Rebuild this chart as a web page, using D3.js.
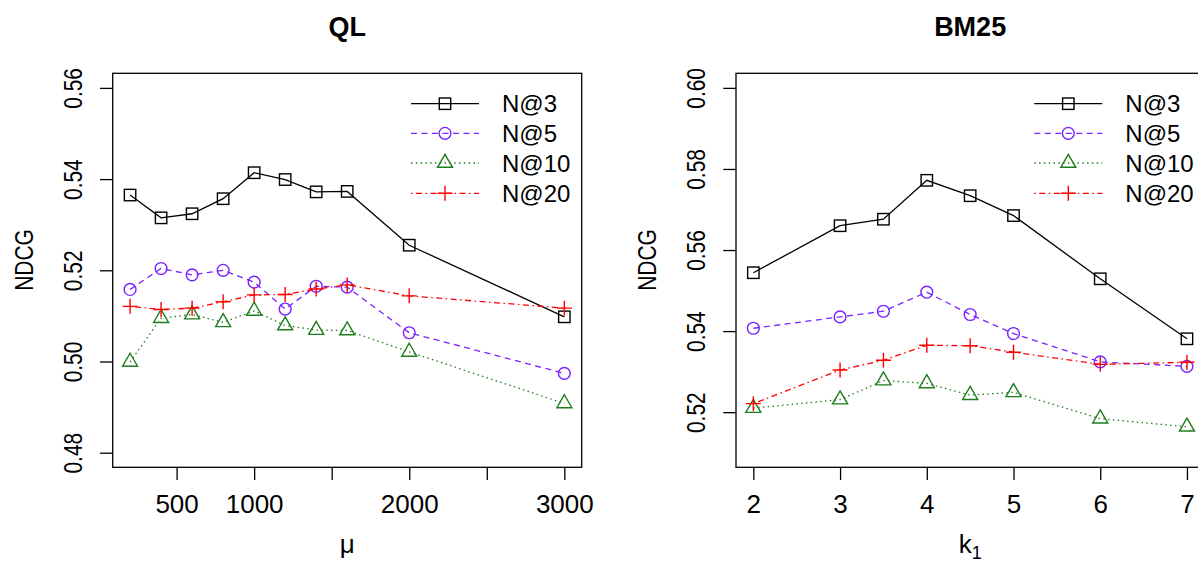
<!DOCTYPE html>
<html>
<head>
<meta charset="utf-8">
<script src="https://cdn.jsdelivr.net/npm/d3@7"></script>
<style>
	body { margin: 0; background: #fff; }
	svg { display: block; font-family: "Liberation Sans", Arial, Helvetica, sans-serif; }
</style>
</head>
<body>
<svg id="chart" width="1198" height="565"></svg>
<script>
// Data
const seriesNames = ["N@3", "N@5", "N@10", "N@20"];

// QL panel
const muValues = [200, 400, 600, 800, 1000, 1200, 1400, 1600, 2000, 3000];
const qlN3  = [0.5365, 0.5315, 0.5324, 0.5357, 0.5414, 0.5399, 0.5372, 0.5373, 0.5255, 0.5098];
const qlN5  = [0.5158, 0.5204, 0.5190, 0.5200, 0.5174, 0.5115, 0.5165, 0.5163, 0.5063, 0.4974];
const qlN10 = [0.4999, 0.5095, 0.5103, 0.5086, 0.5111, 0.5079, 0.5069, 0.5068, 0.5021, 0.4908];
const qlN20 = [0.5121, 0.5114, 0.5117, 0.5131, 0.5146, 0.5147, 0.5159, 0.5168, 0.5144, 0.5117];
const muTicks = [500, 1000, 1500, 2000, 2500, 3000];
const muLabels = ["500", "1000", "", "2000", "", "3000"];
const qlYTicks = [0.48, 0.50, 0.52, 0.54, 0.56];

// BM25 panel
const k1Values = [2, 3, 3.5, 4, 4.5, 5, 6, 7];
const bmN3  = [0.5544, 0.5660, 0.5676, 0.5772, 0.5734, 0.5685, 0.5529, 0.5381];
const bmN5  = [0.5407, 0.5435, 0.5449, 0.5496, 0.5441, 0.5394, 0.5324, 0.5313];
const bmN10 = [0.5210, 0.5231, 0.5278, 0.5271, 0.5242, 0.5249, 0.5184, 0.5164];
const bmN20 = [0.5221, 0.5304, 0.5328, 0.5365, 0.5364, 0.5348, 0.5318, 0.5323];
const k1Ticks = [2, 3, 4, 5, 6, 7];
const bmYTicks = [0.52, 0.54, 0.56, 0.58, 0.60];

// Styles
const colors = ["#000000", "#7a22ff", "#1e7d1e", "#ff0000"];
const dashes = [null, "6,4.5", "1.5,3.3", "1.5,3.5,6,3.5"];
const shapes = ["square", "circle", "triangle", "plus"];

const svg = d3.select("#chart");

function marker(g, shape, color) {
	if (shape === "square") {
		g.append("rect").attr("x", -5.7).attr("y", -5.7).attr("width", 11.4).attr("height", 11.4)
			.attr("fill", "none").attr("stroke", color).attr("stroke-width", 1.4);
	} else if (shape === "circle") {
		g.append("circle").attr("r", 5.9)
			.attr("fill", "none").attr("stroke", color).attr("stroke-width", 1.4);
	} else if (shape === "triangle") {
		g.append("path").attr("d", "M0,-8.7L7.5,4.3L-7.5,4.3Z")
			.attr("fill", "none").attr("stroke", color).attr("stroke-width", 1.4);
	} else {
		g.append("path").attr("d", "M-7.5,0H7.5M0,-7.5V7.5")
			.attr("fill", "none").attr("stroke", color).attr("stroke-width", 1.4);
	}
}

function panel(opt) {
	const x = d3.scaleLinear().domain(opt.xDomain).range([opt.left, opt.right]);
	const y = d3.scaleLinear().domain(opt.yDomain).range([467.3, 73.3]);
	const g = svg.append("g");

	// Box
	g.append("rect")
		.attr("x", opt.left).attr("y", 73.3)
		.attr("width", opt.right - opt.left).attr("height", 394)
		.attr("fill", "none").attr("stroke", "#000").attr("stroke-width", 1.3);

	// Y axis
	const yAxis = g.append("g")
		.attr("transform", `translate(${opt.left},0)`)
		.call(d3.axisLeft(y).tickValues(opt.yTicks).tickFormat(d3.format(".2f")).tickSize(12.7).tickSizeOuter(0));
	yAxis.select(".domain").remove();
	yAxis.selectAll("line").attr("stroke-width", 1.3);
	yAxis.selectAll("text")
		.attr("x", 0).attr("y", -31).attr("dy", 0)
		.attr("text-anchor", "middle")
		.attr("transform", "rotate(-90) scale(0.82,1)")
		.style("font-size", "25.5px").attr("fill", "#000");

	// X axis
	const xAxis = g.append("g")
		.attr("transform", "translate(0,467.3)")
		.call(d3.axisBottom(x).tickValues(opt.xTicks)
			.tickFormat((d, i) => opt.xLabels[i]).tickSize(12.7).tickSizeOuter(0));
	xAxis.select(".domain").remove();
	xAxis.selectAll("line").attr("stroke-width", 1.3);
	xAxis.selectAll("text")
		.attr("y", 45.4).attr("dy", 0)
		.style("font-size", "26px").attr("fill", "#000");

	// Title
	g.append("text")
		.attr("x", (opt.left + opt.right) / 2).attr("y", 36)
		.attr("text-anchor", "middle")
		.style("font-size", "27px").style("font-weight", "bold")
		.text(opt.title);

	// Y label
	g.append("text")
		.attr("transform", `translate(${opt.left - 80},260) rotate(-90) scale(0.82,1)`)
		.attr("text-anchor", "middle")
		.style("font-size", "25.5px")
		.text("NDCG");

	// X label
	const xl = g.append("text")
		.attr("x", (opt.left + opt.right) / 2).attr("y", 553)
		.attr("text-anchor", "middle")
		.style("font-size", "26px");
	xl.append("tspan").text(opt.xLabel);
	if (opt.xSub) {
		xl.append("tspan").attr("dy", 6).style("font-size", "18px").text(opt.xSub);
	}

	// Lines + points
	const line = d3.line().x(d => x(d[0])).y(d => y(d[1]));
	opt.series.forEach((vals, s) => {
		const pts = opt.xValues.map((v, i) => [v, vals[i]]);
		g.append("path")
			.datum(pts)
			.attr("d", line)
			.attr("fill", "none")
			.attr("stroke", colors[s])
			.attr("stroke-width", 1.3)
			.attr("stroke-dasharray", dashes[s]);
		pts.forEach(p => {
			const m = g.append("g").attr("transform", `translate(${x(p[0])},${y(p[1])})`);
			marker(m, shapes[s], colors[s]);
		});
	});

	// Legend
	const rows = [103.7, 133.3, 163, 193.3];
	seriesNames.forEach((name, s) => {
		const lg = g.append("g").attr("transform", `translate(${opt.legendX},${rows[s]})`);
		lg.append("line").attr("x1", 0).attr("x2", 68).attr("y1", 0).attr("y2", 0)
			.attr("stroke", colors[s]).attr("stroke-width", 1.3)
			.attr("stroke-dasharray", dashes[s]);
		const m = lg.append("g").attr("transform", "translate(34,0)");
		marker(m, shapes[s], colors[s]);
		lg.append("text").attr("x", 91).attr("y", 8.6)
			.style("font-size", "24px").text(name);
	});
}

panel({
	title: "QL",
	left: 112.7, right: 581.7,
	xDomain: [88, 3112], yDomain: [0.4768, 0.5632],
	xValues: muValues, series: [qlN3, qlN5, qlN10, qlN20],
	xTicks: muTicks, xLabels: muLabels, yTicks: qlYTicks,
	xLabel: "μ", legendX: 411
});

panel({
	title: "BM25",
	left: 736, right: 1204.3,
	xDomain: [1.8, 7.2], yDomain: [0.5064, 0.6036],
	xValues: k1Values, series: [bmN3, bmN5, bmN10, bmN20],
	xTicks: k1Ticks, xLabels: k1Ticks.map(String), yTicks: bmYTicks,
	xLabel: "k", xSub: "1", legendX: 1034.3
});
</script>
</body>
</html>
